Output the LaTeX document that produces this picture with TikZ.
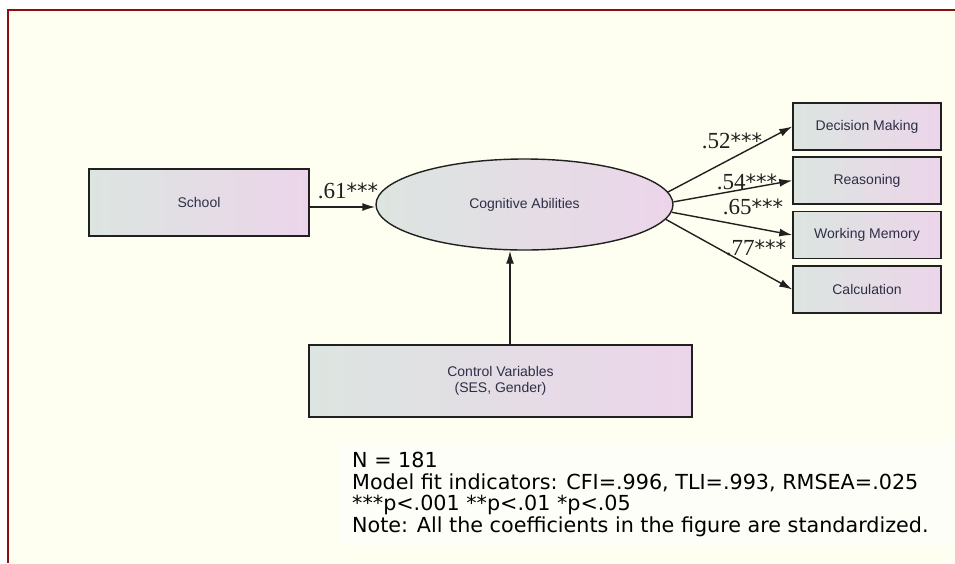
\documentclass[tikz,border=0pt]{standalone}
\usepackage{fontspec}
\setmainfont{Liberation Sans}
\newfontfamily\coeffont{Liberation Serif}
\newfontfamily\starfont{DejaVu Sans}
\newfontfamily\notefont{DejaVu Sans}
\usetikzlibrary{shapes.geometric,arrows.meta,calc}
\definecolor{bgcream}{HTML}{FEFEF1}
\definecolor{framered}{HTML}{8A0F0F}
\definecolor{boxleft}{HTML}{DCE5E0}
\definecolor{boxright}{HTML}{ECD5EA}
\definecolor{boxtext}{HTML}{2E2E48}
\definecolor{edgecol}{HTML}{202020}
\newcommand{\coefstars}{{\starfont\fontsize{21}{22}\selectfont ***}}
\tikzset{
  varbox/.style={draw=edgecol, line width=1.4pt, left color=boxleft, right color=boxright,
    text=boxtext, font=\fontsize{14}{16}\selectfont, inner sep=0pt, align=center},
  latent/.style={ellipse, draw=edgecol, line width=1.4pt, left color=boxleft, right color=boxright,
    text=boxtext, font=\fontsize{14}{16}\selectfont, inner sep=0pt,
    minimum width=297pt, minimum height=91pt},
  path/.style={draw=edgecol, line width=1.4pt, -{Latex[length=13pt,width=8pt]}},
  coef/.style={font=\coeffont\fontsize{23}{24}\selectfont, text=edgecol, inner sep=0pt},
}
\begin{document}
\begin{tikzpicture}[x=1pt,y=-1pt]
\useasboundingbox (0,0) rectangle (955,563);
\fill[white] (0,0) rectangle (955,563);
\fill[bgcream] (8,10) rectangle (955,563);
\draw[framered, line width=2.2pt] (8,563) -- (8,10) -- (955,10);
\fill[white, opacity=0.55] (340,442) rectangle (955,546);

\node[varbox, minimum width=220pt, minimum height=67pt] (school) at (199,202.5) {School};
\node[latent] (ell) at (524.5,204.5) {Cognitive Abilities};
\node[varbox, minimum width=148pt, minimum height=47pt] (dm) at (867,126.5) {Decision Making};
\node[varbox, minimum width=148pt, minimum height=47pt] (rs) at (867,180.5) {Reasoning};
\node[varbox, minimum width=148pt, minimum height=47pt] (wm) at (867,235) {Working Memory};
\node[varbox, minimum width=148pt, minimum height=47pt] (ca) at (867,289.5) {Calculation};
\node[varbox, minimum width=383pt, minimum height=72pt] (ctrl) at (500.5,381) {Control Variables\\(SES, Gender)};

\draw[path] (school.east |- 0,207) -- (ell.west |- 0,207);
\draw[path] (ctrl.north -| 510,0) -- (ell.south -| 510,0);
\draw[path] (ell.5) -- (dm.west);
\draw[path] (ell.1) -- (rs.west);
\draw[path] (ell.-3) -- (wm.west);
\draw[path] (ell.-6) -- (ca.west);

\node[coef] (c61) at (348,191) {.61\coefstars};
\node[coef] (c52) at (732,141) {.52\coefstars};
\node[coef] (c54) at (747,182) {.54\coefstars};
\node[coef] (c65) at (753,207) {.65\coefstars};
\node[coef] (c77) at (756,248) {.77\coefstars};

\node[anchor=north west, align=left, inner sep=0pt, text=black,
  font=\notefont\fontsize{20.7}{21.7}\selectfont] (note) at (352,452)
  {N = 181\\Model fit indicators: CFI=.996, TLI=.993, RMSEA=.025\\***p<.001 **p<.01 *p<.05\\Note: All the coefficients in the figure are standardized.};
\end{tikzpicture}
\end{document}
